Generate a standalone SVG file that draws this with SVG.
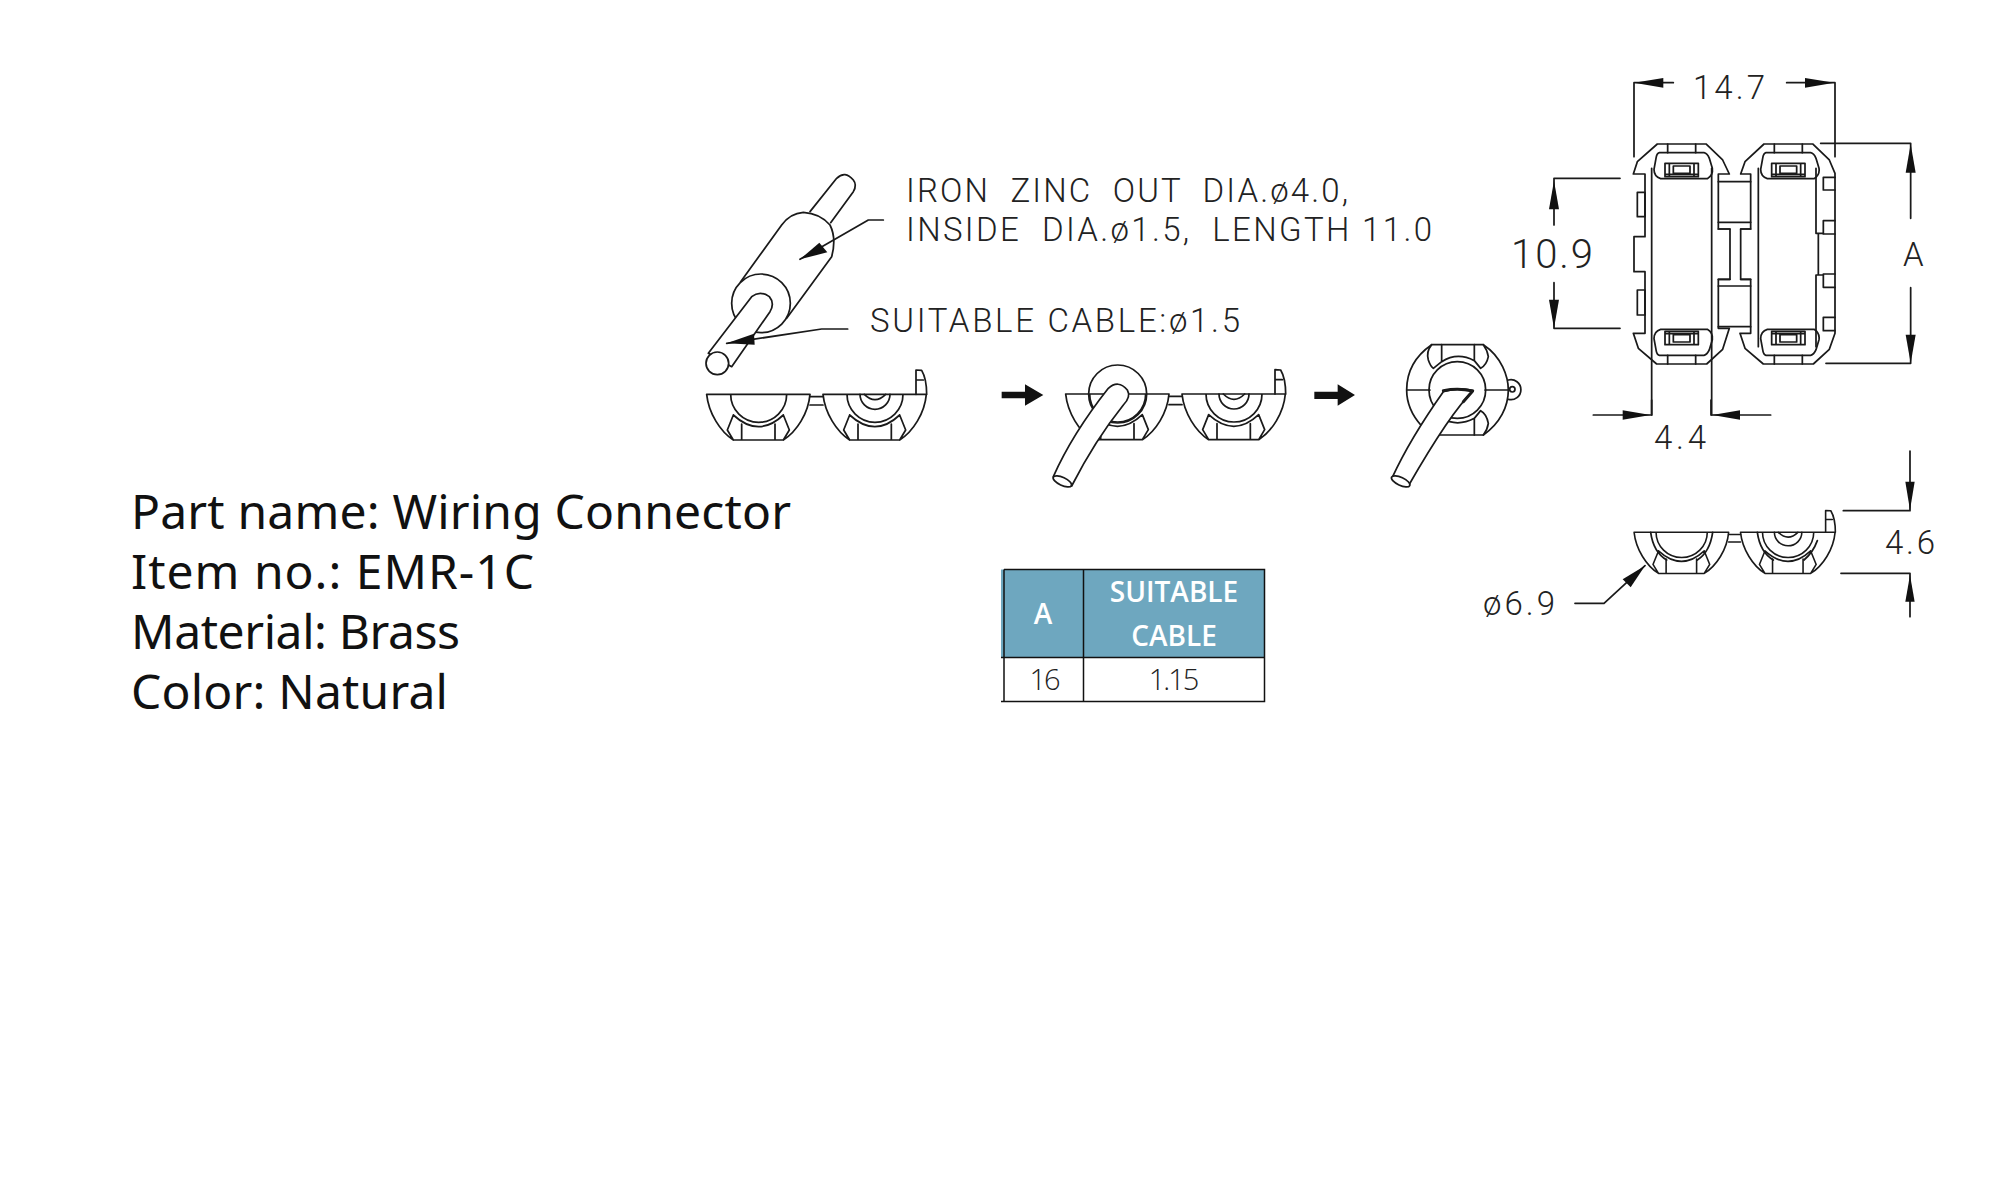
<svg xmlns="http://www.w3.org/2000/svg" xmlns:xlink="http://www.w3.org/1999/xlink" width="2000" height="1200" viewBox="0 0 2000 1200">
<style>
.l{fill:none;stroke:#1a1a1a;stroke-width:5.2;stroke-linejoin:round;stroke-linecap:round}
.w{fill:#fff;stroke:#1a1a1a;stroke-width:5.2;stroke-linejoin:round}
.a{fill:#111;stroke:none}
.cad{font-family:Roboto,"Liberation Sans",sans-serif;font-weight:300;fill:#222}
.info{font-family:"Noto Sans","Liberation Sans",sans-serif;font-size:48px;fill:#111}
.th{font-family:"Open Sans","Liberation Sans",sans-serif;font-size:28px;font-weight:600;fill:#fff;text-anchor:middle}
.td{font-family:"Open Sans","Liberation Sans",sans-serif;font-size:29px;font-weight:300;fill:#222;text-anchor:middle;letter-spacing:-2px}
.t{fill:none;stroke:#111;stroke-width:1.5}
</style>
<defs>
<g id="half">
<path class="l" d="M-156,0 H154 M-156,0 C-150,57 -115,112 -76,137 H74 C114,112 149,57 154,0 M-84,0 A84,84 0 0 0 84,0 M-76,62 Q0,132 74,62 M-76,62 L-94,107 L-76,137 M-51,89 V137 M49,89 V137 M74,62 L92,107 L74,137"/>
</g>
<g id="pair">
<use xlink:href="#half" href="#half"/>
<path class="l" d="M154,7 H193 M154,32 H193"/>
<use xlink:href="#half" href="#half" x="349"/>
<path class="l" d="M304,0 A45,45 0 0 0 394,0 M317,0 Q349,32 381,0 M504,0 C504,-30 499,-55 489,-72 L472,-73 V0 M472,-43 H494"/>
</g>
<polygon id="ah" class="a" points="0,0 -15,86 15,86"/>
<g id="cap">
<path class="l" d="M478,278 H612 Q622,280 628,295 L637,325 Q640,345 622,356 H482 Q462,350 462,328 L468,295 Q470,280 478,278 Z"/>
<path class="l" d="M495,310 H595 V350 H495 Z M508,312 V348 M582,312 V348 M520,318 H570 V340 H520 Z M497,343 H593"/>
<path class="l" d="M503,252 V278 M587,252 V278"/>
</g>
</defs>

<g id="bead" transform="translate(680 150) scale(.33333)">
<path class="l" d="M390,185 L470,85 Q495,60 520,90 Q532,105 520,125 L452,218"/>
<path class="l" d="M182,395 L305,225 Q330,190 370,187 Q420,190 450,225 Q470,265 455,320 L320,505"/>
<circle class="w" cx="243" cy="460" r="88"/>
<path class="w" d="M85,610 L215,440 Q240,420 268,440 Q285,460 270,485 L155,650 Z"/>
<circle class="w" cx="112" cy="640" r="34"/>
<path class="l" d="M610,210 H565 L360,328 M503,537 H425 L140,580"/>
<polygon class="a" points="360,328 418,278 442,307"/>
<polygon class="a" points="140,580 222,551 224,584"/>
</g>

<g id="stage1" transform="translate(680 150) scale(.33333)">
<use xlink:href="#pair" href="#pair" x="236" y="733"/>
<polygon class="a" points="965,725 1035,725 1035,703 1090,735 1035,767 1035,745 965,745"/>
</g>

<g id="stage2" transform="translate(1040 340) scale(.33333)">
<use xlink:href="#pair" href="#pair" x="233" y="162"/>
<circle class="l" cx="233" cy="162" r="87"/>
<path class="w" d="M40,410 C80,320 130,240 205,145 Q235,118 262,150 Q274,170 250,195 C190,270 140,350 95,438 Z"/>
<ellipse class="w" cx="67" cy="424" rx="30" ry="12" transform="rotate(25 67 424)"/>
<polygon class="a" points="823,155 893,155 893,133 945,165 893,197 893,177 823,177"/>
</g>

<g id="stage3" transform="translate(1040 340) scale(.33333)">
<path class="l" d="M1100,150 C1100,90 1130,45 1175,14 H1330 C1385,50 1405,110 1405,150 C1405,200 1380,250 1330,285 H1195 M1100,150 C1100,190 1115,225 1145,258 M1100,150 H1170 M1335,150 H1405"/>
<circle class="l" cx="1252" cy="150" r="85"/>
<path class="l" d="M1175,14 Q1158,35 1165,60 Q1172,80 1180,85 L1205,65 V14 M1303,14 V62 L1322,85 Q1340,75 1345,50 Q1342,30 1330,14 M1205,65 Q1252,35 1303,62 M1303,285 V235 L1322,212 Q1340,222 1345,250 Q1342,270 1330,285 M1205,235 Q1252,262 1303,235"/>
<path class="l" d="M1405,120 A30,30 0 1 1 1405,178"/>
<circle class="l" cx="1417" cy="148" r="8"/>
<path class="w" d="M1058,410 C1090,340 1150,240 1210,155 Q1255,140 1300,152 C1250,200 1190,290 1105,438 Z"/>
<path class="l" style="stroke-width:9" d="M1210,152 Q1255,143 1298,153 L1270,185"/>
<ellipse class="w" cx="1082" cy="424" rx="30" ry="12" transform="rotate(25 1082 424)"/>
</g>

<g id="top-view" transform="translate(1500 60) scale(.33333)">
<path class="l" d="M472,252 H618 L668,300 L688,342 H655 V507 H690 V658 H655 V805 H688 L668,868 L620,912 H470 L415,865 L400,820 H435 V635 H402 V530 H435 V342 H400 L412,305 Z"/>
<path class="l" d="M412,397 H435 V470 H412 Z M412,690 H435 V765 H412 Z"/>
<path class="l" d="M455,325 V1065 M635,325 V1065"/>
<use xlink:href="#cap" href="#cap"/>
<use xlink:href="#cap" href="#cap" transform="translate(0 1164) scale(1 -1)"/>
<use xlink:href="#cap" href="#cap" x="320"/>
<use xlink:href="#cap" href="#cap" transform="translate(320 1164) scale(1 -1)"/>
<path class="l" d="M792,252 H938 L988,300 L1005,340 V820 L988,868 L940,912 H790 L735,865 L720,820 H752 V658 H722 V507 H752 V342 H722 L735,305 Z"/>
<path class="l" d="M775,325 V860 M948,325 V520 H970 M955,520 V645 M948,645 H970 M948,645 V860"/>
<path class="l" d="M970,352 H1005 M970,352 V390 H1005 M970,482 H1005 M970,482 V522 H1005 M970,642 H1005 M970,642 V682 H1005 M970,772 H1005 M970,772 V812 H1005"/>
<path class="l" d="M655,365 H752 M655,487 H752 M655,507 H690 M722,507 H752 M655,658 H690 M722,658 H752 M655,678 H752 M655,800 H752"/>
<path class="l" d="M402,290 V68 H520 M860,68 H1005 V290 M962,250 H1232 V475 M978,910 H1232 V683 M360,355 H162 V495 M360,805 H162 V668"/>
<polygon class="a" points="402,68 490,54 490,83"/>
<polygon class="a" points="1003,68 915,54 915,83"/>
<use xlink:href="#ah" href="#ah" x="1232" y="252"/>
<use xlink:href="#ah" href="#ah" transform="translate(1232 910) scale(1 -1)"/>
<use xlink:href="#ah" href="#ah" x="162" y="362"/>
<use xlink:href="#ah" href="#ah" transform="translate(162 805) scale(1 -1)"/>
</g>

<g id="side-view" transform="translate(1460 400) scale(.33333)">
<use xlink:href="#pair" href="#pair" transform="translate(665 397) scale(.915 .9)"/>
<path class="l" d="M572,397 C578,440 595,465 620,480 M758,397 C752,440 735,465 712,480 M892,397 C898,440 915,465 940,480 M1072,422 C1062,450 1050,465 1032,480"/>
<path class="l" d="M400,45 H575 V0 M932,45 H753 V0 M1150,332 H1350 V153 M1143,520 H1350 V650 M345,610 H432 L555,497"/>
<polygon class="a" points="572,45 488,31 488,59"/>
<polygon class="a" points="757,45 840,31 840,59"/>
<polygon class="a" points="1350,330 1336,245 1364,245"/>
<polygon class="a" points="1350,525 1336,605 1364,605"/>
<polygon class="a" points="555,497 488,538 512,562"/>
</g>

<g id="labels" class="cad" xml:space="preserve">
<text x="906" y="202" font-size="33" textLength="442" xml:space="preserve">IRON  ZINC  OUT  DIA.ø4.0,</text>
<text x="906" y="241" font-size="33" textLength="526" xml:space="preserve">INSIDE  DIA.ø1.5,  LENGTH 11.0</text>
<text x="870" y="332" font-size="33" textLength="370">SUITABLE CABLE:ø1.5</text>
<text x="1693" y="99" font-size="33" textLength="72">14.7</text>
<text x="1511" y="268" font-size="40" textLength="82">10.9</text>
<text x="1903" y="266" font-size="33" textLength="22">A</text>
<text x="1654" y="449" font-size="33" textLength="52">4.4</text>
<text x="1885" y="554" font-size="33" textLength="50">4.6</text>
<text x="1483" y="615" font-size="33" textLength="72">ø6.9</text>
</g>

<g id="table">
<rect x="1001" y="569.5" width="263" height="88" fill="#6ea7bf"/>
<path class="t" d="M1004,569.5 H1264.5 V701.5 H1001 M1001,657.5 H1264.5 M1004,569.5 V701.5 M1083.5,569.5 V701.5"/>
<text class="th" x="1043" y="624">A</text>
<text class="th" x="1174" y="602">SUITABLE</text>
<text class="th" x="1174" y="646">CABLE</text>
<text class="td" x="1044" y="690">16</text>
<text class="td" x="1173" y="690">1.15</text>
</g>

<g id="info" class="info">
<text x="131" y="529" textLength="660">Part name: Wiring Connector</text>
<text x="131" y="589" textLength="403">Item no.: EMR-1C</text>
<text x="131" y="649" textLength="329">Material: Brass</text>
<text x="131" y="709" textLength="317">Color: Natural</text>
</g>
</svg>
